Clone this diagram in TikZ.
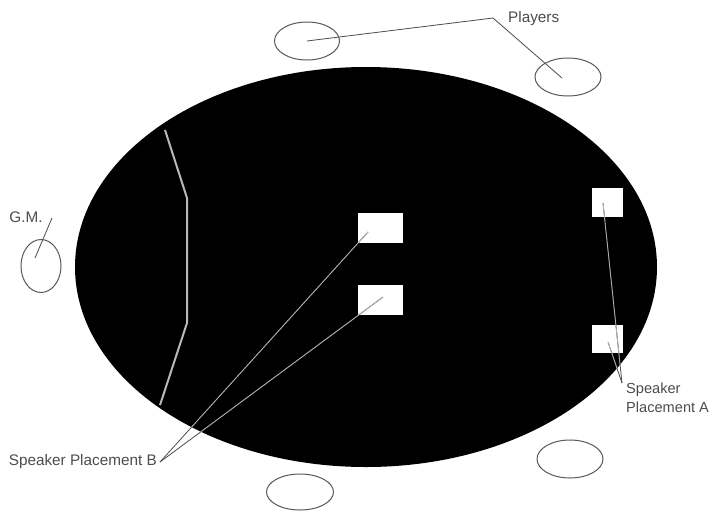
\documentclass[tikz,border=0pt]{standalone}
\usepackage{fontspec}
\setmainfont{Liberation Sans}
\usetikzlibrary{shapes.geometric}
\begin{document}
\begin{tikzpicture}[x=1pt,y=-1pt,
  seat/.style={ellipse, draw=black!65, line width=1pt, inner sep=0pt, outer sep=0pt},
  speakerbox/.style={rectangle, fill=white, draw=none, inner sep=0pt, minimum width=45pt, minimum height=30pt},
  lbl/.style={font=\fontsize{15.3}{18.5}\selectfont, text=black!70, inner sep=0pt},
  leader/.style={draw=black!70, line width=0.8pt},
  leaderin/.style={draw=black!30, line width=0.8pt}]
\useasboundingbox (0,0) rectangle (712,512);
\fill[white] (0,0) rectangle (712,512);
% table
\node[ellipse, fill=black, inner sep=0pt, minimum width=582pt, minimum height=400pt] (table) at (366,267) {};
% divider line
\draw[black!28, line width=2pt] (165,130) -- (187,198) -- (187,323) -- (160,405);
% seats
\node[seat, minimum width=65pt, minimum height=38pt] (p1) at (307,41) {};
\node[seat, minimum width=66pt, minimum height=38pt] (p2) at (568,77) {};
\node[seat, minimum width=66pt, minimum height=38pt] (p3) at (570,459) {};
\node[seat, minimum width=67pt, minimum height=36pt] (p4) at (300,492) {};
\node[seat, minimum width=40pt, minimum height=53pt] (gm) at (41,266) {};
% speakers
\node[speakerbox] (b1) at (380.5,228) {};
\node[speakerbox] (b2) at (380.5,300) {};
\node[speakerbox, minimum width=31pt, minimum height=29pt] (a1) at (607.5,202.5) {};
\node[speakerbox, minimum width=31pt, minimum height=28pt] (a2) at (607.5,339) {};
% labels
\node[lbl, anchor=west] (players) at (508,19) {Players};
\node[lbl, anchor=center] (gmlbl) at (26,217) {G.M.};
\node[lbl, anchor=east] (sb) at (157,462) {Speaker Placement B};
\node[lbl, font=\fontsize{14.6}{18.5}\selectfont, anchor=north west, align=left] (sa) at (626,383) {Speaker\\Placement A};
% leader coordinates
\coordinate (pj) at (493,18);
\coordinate (gmj) at (52,218);
\coordinate (gmt) at (35,258);
\coordinate (bj) at (160,462);
\coordinate (b1t) at (368,232);
\coordinate (b2t) at (383,297);
\coordinate (aj) at (622,383);
\coordinate (a1t) at (603,203);
\coordinate (a2t) at (608,342);
% leaders
\draw[leader] (pj) -- (p1.center);
\draw[leader] (pj) -- (562,78);
\draw[leader] (gmj) -- (gmt);
\draw[leader] (bj) -- (b1t);
\draw[leader] (bj) -- (b2t);
\draw[leader] (aj) -- (a1t);
\draw[leader] (aj) -- (a2t);
\begin{scope}
\clip (366,267) ellipse [x radius=291, y radius=200];
\draw[leaderin] (bj) -- (b1t);
\draw[leaderin] (bj) -- (b2t);
\draw[leaderin] (aj) -- (a1t);
\draw[leaderin] (aj) -- (a2t);
\end{scope}
\end{tikzpicture}
\end{document}
